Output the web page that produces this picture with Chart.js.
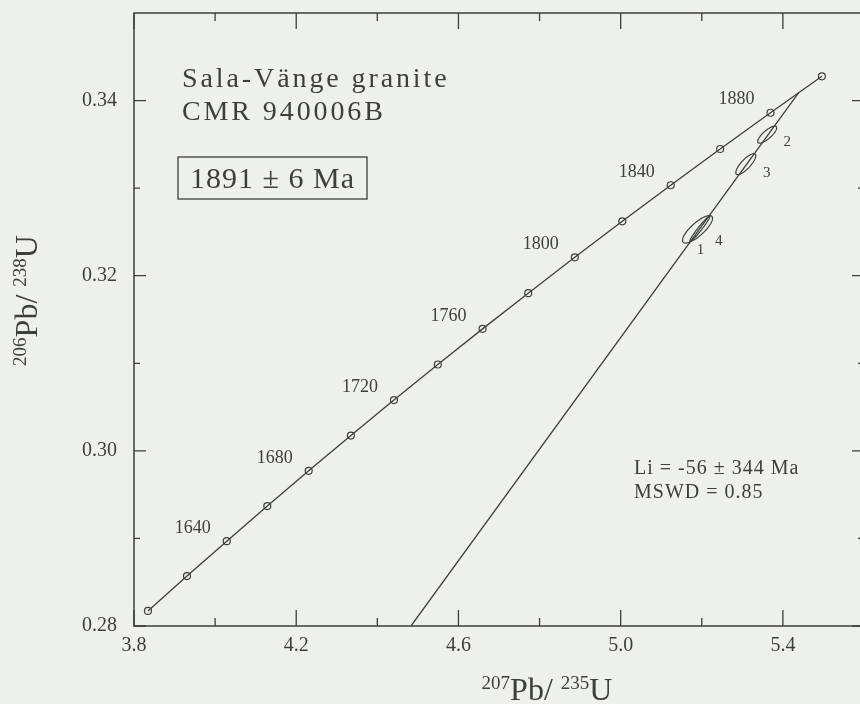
<!DOCTYPE html>
<html>
<head>
<meta charset="utf-8">
<title>Sala-Vänge granite concordia</title>
<script src="https://cdn.jsdelivr.net/npm/chart.js@4.4.1/dist/chart.umd.min.js"></script>
<style>
  html, body { margin: 0; padding: 0; background: #eef0eb; overflow: hidden; }
  canvas { display: block; }
</style>
</head>
<body>
<canvas id="concordia" width="880" height="704"></canvas>
<script>
// Concordia curve, one point every 20 Ma
const ages = [1600, 1620, 1640, 1660, 1680, 1700, 1720, 1740, 1760, 1780, 1800, 1820, 1840, 1860, 1880, 1900];
const pb207u235 = [3.8344, 3.9306, 4.0287, 4.1287, 4.2307, 4.3348, 4.4409, 4.5491, 4.6595, 4.7721, 4.8869, 5.004, 5.1234, 5.2453, 5.3695, 5.4962];
const pb206u238 = [0.28172, 0.2857, 0.28969, 0.2937, 0.29772, 0.30175, 0.3058, 0.30986, 0.31393, 0.31801, 0.3221, 0.32621, 0.33033, 0.33447, 0.33861, 0.34277];
const labelledAges = [1640, 1680, 1720, 1760, 1800, 1840, 1880];

// Discordia: bottom of the plot up to the upper intercept (1891 Ma)
const discordiaX = [4.483, 5.439];
const discordiaY = [0.28, 0.3409];

// Zircon fractions: centres, errors and error correlation
const fractions = ["1", "2", "3", "4"];
const fracX = [5.1895, 5.3613, 5.3085, 5.1951];
const fracY = [0.3253, 0.33611, 0.33274, 0.32535];
const fracSx = [0.037, 0.0234, 0.0246, 0.0246];
const fracSy = [0.00157, 0.00097, 0.0012, 0.00143];
const fracRho = [0.8, 0.8, 0.8, 0.97];

const xTicks = [3.8, 4.2, 4.6, 5.0, 5.4];
const xMinorTicks = [4.0, 4.4, 4.8, 5.2];
const yTicks = [0.28, 0.3, 0.32, 0.34];
const yMinorTicks = [0.29, 0.31, 0.33];

const ink = "#3a403d";
const serif = "'Liberation Serif', 'Times New Roman', 'DejaVu Serif', serif";

// pixel offsets of the little number labels from each ellipse centre
const fracLabelOffset = [[3, 21], [20, 7], [21, 9], [19, 12]];

function drawIsotopeText(ctx, parts) {
  // parts: [text, isSuperscript]
  let total = 0;
  const widths = parts.map(([t, sup]) => {
    ctx.font = sup ? `19px ${serif}` : `32px ${serif}`;
    const w = ctx.measureText(t).width;
    total += w;
    return w;
  });
  let x = -total / 2;
  parts.forEach(([t, sup], i) => {
    ctx.font = sup ? `19px ${serif}` : `32px ${serif}`;
    ctx.fillText(t, x, sup ? -11 : 0);
    x += widths[i];
  });
}

const decorations = {
  id: "decorations",
  afterDatasetsDraw(chart) {
    const { ctx, chartArea: a } = chart;
    const xs = chart.scales.x;
    const ys = chart.scales.y;
    ctx.save();
    ctx.strokeStyle = ink;
    ctx.fillStyle = ink;

    // error ellipses
    ctx.lineWidth = 1.2;
    fracX.forEach((cx, i) => {
      ctx.beginPath();
      const n = 90;
      const r = fracRho[i];
      for (let k = 0; k <= n; k++) {
        const t = (k / n) * 2 * Math.PI;
        const x = cx + fracSx[i] * Math.cos(t);
        const y = fracY[i] + fracSy[i] * (r * Math.cos(t) + Math.sqrt(1 - r * r) * Math.sin(t));
        const px = xs.getPixelForValue(x);
        const py = ys.getPixelForValue(y);
        if (k === 0) ctx.moveTo(px, py);
        else ctx.lineTo(px, py);
      }
      ctx.stroke();
    });

    // fraction numbers
    ctx.font = `15px ${serif}`;
    ctx.textAlign = "center";
    ctx.textBaseline = "middle";
    fractions.forEach((f, i) => {
      const [dx, dy] = fracLabelOffset[i];
      ctx.fillText(f, xs.getPixelForValue(fracX[i]) + dx, ys.getPixelForValue(fracY[i]) + dy);
    });

    // age labels on the concordia
    ctx.font = `18px ${serif}`;
    labelledAges.forEach((age) => {
      const i = ages.indexOf(age);
      const px = xs.getPixelForValue(pb207u235[i]);
      const py = ys.getPixelForValue(pb206u238[i]);
      ctx.fillText(String(age), px - 34, py - 13);
    });

    // frame
    ctx.lineWidth = 1.5;
    ctx.strokeRect(a.left, a.top, a.right - a.left, a.bottom - a.top);

    // inward ticks on all four sides
    ctx.lineWidth = 1.3;
    ctx.beginPath();
    const xTick = (v, len) => {
      const px = xs.getPixelForValue(v);
      ctx.moveTo(px, a.bottom);
      ctx.lineTo(px, a.bottom - len);
      ctx.moveTo(px, a.top);
      ctx.lineTo(px, a.top + len);
    };
    const yTick = (v, len) => {
      const py = ys.getPixelForValue(v);
      ctx.moveTo(a.left, py);
      ctx.lineTo(a.left + len, py);
      ctx.moveTo(a.right, py);
      ctx.lineTo(a.right - len, py);
    };
    xTicks.forEach((v) => xTick(v, 16));
    xMinorTicks.forEach((v) => xTick(v, 8));
    yTicks.forEach((v) => yTick(v, 12));
    yMinorTicks.forEach((v) => yTick(v, 6));
    ctx.stroke();

    // sample name
    ctx.textAlign = "left";
    ctx.textBaseline = "alphabetic";
    ctx.font = `28px ${serif}`;
    ctx.letterSpacing = "2.9px";
    ctx.fillText("Sala-Vänge granite", a.left + 48, a.top + 74);
    ctx.fillText("CMR 940006B", a.left + 48, a.top + 107);

    // boxed age
    ctx.lineWidth = 1.3;
    ctx.strokeRect(a.left + 44, a.top + 144, 189, 42);
    ctx.font = `30px ${serif}`;
    ctx.letterSpacing = "1px";
    ctx.fillText("1891 ± 6 Ma", a.left + 56, a.top + 175);

    // regression stats
    ctx.font = `20px ${serif}`;
    ctx.letterSpacing = "1px";
    ctx.fillText("Li = -56 ± 344 Ma", a.left + 500, a.top + 461);
    ctx.fillText("MSWD = 0.85", a.left + 500, a.top + 485);
    ctx.letterSpacing = "0px";

    // axis titles
    ctx.save();
    ctx.translate(a.left + 413, a.bottom + 74);
    drawIsotopeText(ctx, [["207", true], ["Pb/ ", false], ["235", true], ["U", false]]);
    ctx.restore();

    ctx.save();
    ctx.translate(a.left - 97, (a.top + a.bottom) / 2 - 19);
    ctx.rotate(-Math.PI / 2);
    drawIsotopeText(ctx, [["206", true], ["Pb/ ", false], ["238", true], ["U", false]]);
    ctx.restore();

    ctx.restore();
  },
};

const concordiaPoints = pb207u235.map((x, i) => ({ x, y: pb206u238[i] }));
const discordiaPoints = discordiaX.map((x, i) => ({ x, y: discordiaY[i] }));

new Chart(document.getElementById("concordia"), {
  type: "scatter",
  data: {
    datasets: [
      {
        label: "Concordia",
        data: concordiaPoints,
        showLine: true,
        borderColor: ink,
        borderWidth: 1.3,
        pointRadius: 3.5,
        pointBorderWidth: 1.2,
        pointBorderColor: ink,
        pointBackgroundColor: "rgba(0,0,0,0)",
      },
      {
        label: "Discordia",
        data: discordiaPoints,
        showLine: true,
        borderColor: ink,
        borderWidth: 1.3,
        pointRadius: 0,
      },
    ],
  },
  options: {
    responsive: false,
    animation: false,
    devicePixelRatio: 1,
    layout: { padding: { top: 13, right: 16, left: 0, bottom: 0 } },
    plugins: { legend: { display: false }, tooltip: { enabled: false } },
    scales: {
      x: {
        type: "linear",
        min: 3.8,
        max: 5.6,
        afterBuildTicks: (s) => {
          s.ticks = xTicks.map((v) => ({ value: v }));
        },
        afterFit: (s) => {
          s.height = 78;
          s.paddingLeft = 0;
          s.paddingRight = 0;
        },
        grid: { display: false, drawTicks: false },
        border: { display: false },
        ticks: {
          padding: 8,
          autoSkip: false,
          maxRotation: 0,
          color: ink,
          font: { family: serif, size: 20 },
          callback: (v) => Number(v).toFixed(1),
        },
      },
      y: {
        type: "linear",
        min: 0.28,
        max: 0.35,
        afterBuildTicks: (s) => {
          s.ticks = yTicks.map((v) => ({ value: v }));
        },
        afterFit: (s) => {
          s.width = 134;
          s.paddingTop = 0;
          s.paddingBottom = 0;
        },
        grid: { display: false, drawTicks: false },
        border: { display: false },
        ticks: {
          padding: 17,
          color: ink,
          font: { family: serif, size: 20 },
          callback: (v) => Number(v).toFixed(2),
        },
      },
    },
  },
  plugins: [decorations],
});
</script>
</body>
</html>
